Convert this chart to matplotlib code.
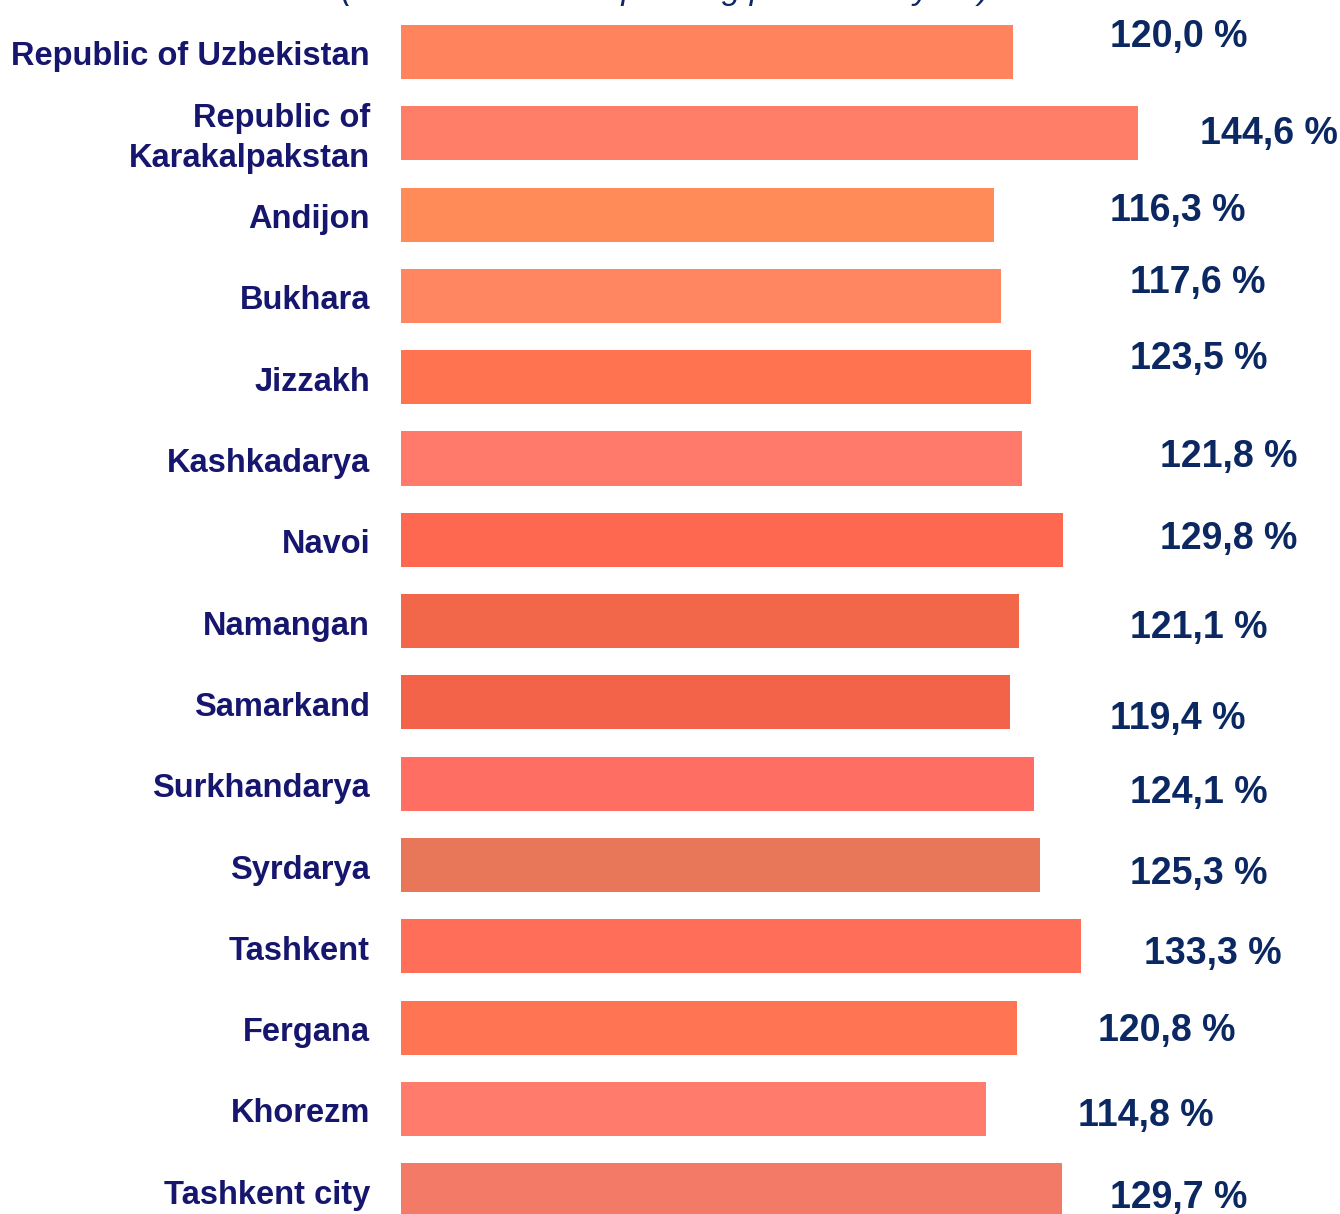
import matplotlib
matplotlib.use("Agg")
import matplotlib.pyplot as plt

regions = ["Republic of Uzbekistan", "Republic of\nKarakalpakstan", "Andijon", "Bukhara",
           "Jizzakh", "Kashkadarya", "Navoi", "Namangan", "Samarkand", "Surkhandarya",
           "Syrdarya", "Tashkent", "Fergana", "Khorezm", "Tashkent city"]
values = [120.0, 144.6, 116.3, 117.6, 123.5, 121.8, 129.8, 121.1, 119.4, 124.1,
          125.3, 133.3, 120.8, 114.8, 129.7]
value_labels = ["120,0 %", "144,6 %", "116,3 %", "117,6 %", "123,5 %", "121,8 %", "129,8 %",
                "121,1 %", "119,4 %", "124,1 %", "125,3 %", "133,3 %", "120,8 %", "114,8 %",
                "129,7 %"]

# styling / layout
bar_colors = ["#FF845E", "#FF7E68", "#FF8B58", "#FF8660", "#FF7350", "#FF7A6A", "#FF6850",
              "#F2664A", "#F2634A", "#FF6E62", "#E8775A", "#FF6E58", "#FF7452", "#FF7B6C",
              "#F27A66"]
label_x = [139.0, 156.7, 139.0, 142.9, 142.9, 148.8, 148.8, 142.9, 139.0, 142.9, 142.9,
           145.7, 136.7, 132.7, 139.0]
label_dy = [-0.19, 0.01, -0.05, -0.16, -0.23, -0.02, -0.01, 0.09, 0.21, 0.12, 0.11, 0.10,
            0.04, 0.09, 0.10]

W, H = 1340, 1214
fig = plt.figure(figsize=(W / 100, H / 100), dpi=100)
left_px = 401
ax = fig.add_axes([left_px / W, 0, 1 - left_px / W, 1])
px_per_unit = 5.1
ax.set_xlim(0, (W - left_px) / px_per_unit)
slot = 81.3
top_center = 52
ax.set_ylim((H - top_center) / slot, -top_center / slot)

ypos = list(range(len(values)))
ax.barh(ypos, values, height=0.665, color=bar_colors, left=0)
ax.axis("off")

for i, (lab, lx, dy) in enumerate(zip(value_labels, label_x, label_dy)):
    ax.text(lx, i + dy, lab, ha="left", va="center", fontsize=27, fontweight="bold",
            color="#0B2862", family="Liberation Sans")

for i, name in enumerate(regions):
    y_fig = 1 - (top_center + slot * i + 5) / H
    fig.text(370 / W, y_fig, name, ha="right", va="center", fontsize=23.5, fontweight="bold",
             color="#16166E", family="Liberation Sans", linespacing=1.4)

fig.text(665 / W, 1 + 1 / H, "(as % of the corresponding period last year)", ha="center",
         va="baseline", fontsize=24, style="italic", color="#0B2862", family="Liberation Sans")

fig.savefig("out.png", dpi=100)
